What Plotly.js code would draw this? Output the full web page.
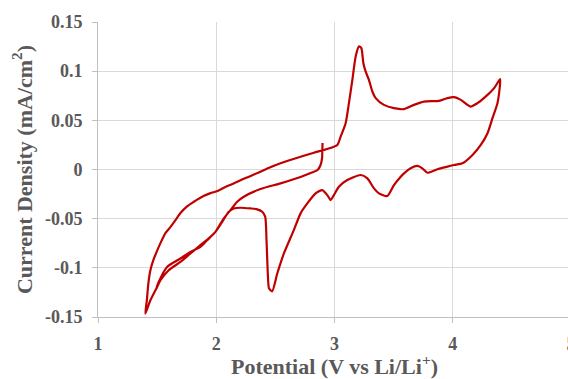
<!DOCTYPE html>
<html>
<head>
<meta charset="utf-8">
<script src="https://cdn.plot.ly/plotly-3.0.1.min.js"></script>
<style>
html,body{margin:0;padding:0;overflow:hidden;background:#fff;}
#chart{width:573px;height:379px;}
</style>
</head>
<body>
<div id="chart"></div>
<script>
// Segment 1: first cathodic sweep from OCV (~2.9 V) down to 1.4 V
var potentialA = [2.899,2.897,2.895,2.882,2.857,2.798,2.713,2.544,2.374,2.233,2.177,2.120,2.064,1.993,1.936,1.866,1.782,1.697,1.598,1.528,1.500,1.443,1.400];
var currentA   = [0.0270,0.0199,0.0117,0.0046,-0.0005,-0.0036,-0.0076,-0.0141,-0.0199,-0.0277,-0.0328,-0.0413,-0.0497,-0.0634,-0.0701,-0.0770,-0.0854,-0.0940,-0.1024,-0.1126,-0.1194,-0.1330,-0.1466];
// Segment 2: anodic sweep from 1.4 V to 4.4 V
var potentialB = [1.413,1.426,1.443,1.468,1.502,1.528,1.570,1.612,1.655,1.697,1.756,1.807,1.892,1.951,2.010,2.078,2.137,2.247,2.349,2.442,2.544,2.713,2.826,2.939,3.024,3.052,3.094,3.122,3.151,3.179,3.207,3.227,3.244,3.263,3.291,3.320,3.348,3.418,3.503,3.588,3.672,3.757,3.884,3.955,4.011,4.068,4.152,4.209,4.294,4.350,4.401];
var currentB   = [-0.1330,-0.1157,-0.1024,-0.0922,-0.0820,-0.0749,-0.0647,-0.0586,-0.0515,-0.0443,-0.0372,-0.0331,-0.0270,-0.0240,-0.0219,-0.0178,-0.0148,-0.0087,-0.0036,0.0015,0.0063,0.0130,0.0171,0.0209,0.0250,0.0334,0.0471,0.0675,0.0912,0.1150,0.1252,0.1235,0.1083,0.0997,0.0912,0.0793,0.0726,0.0657,0.0624,0.0614,0.0657,0.0691,0.0698,0.0726,0.0736,0.0708,0.0640,0.0675,0.0759,0.0828,0.0919];
// Segment 3: cathodic sweep from 4.4 V back to ~1.5 V
var potentialC = [4.398,4.378,4.336,4.294,4.237,4.167,4.082,4.011,3.955,3.870,3.786,3.743,3.701,3.644,3.588,3.560,3.503,3.447,3.376,3.334,3.278,3.221,3.108,3.037,2.995,2.967,2.939,2.897,2.840,2.770,2.713,2.656,2.572,2.516,2.473,2.446,2.436,2.425,2.414,2.389,2.340,2.290,2.205,2.148,2.106,2.050,1.993,1.923,1.866,1.782,1.697,1.584,1.513,1.494];
var currentC   = [0.0844,0.0675,0.0522,0.0369,0.0250,0.0148,0.0063,0.0046,0.0029,0.0002,-0.0033,0.0012,0.0036,0.0012,-0.0039,-0.0073,-0.0158,-0.0270,-0.0243,-0.0192,-0.0090,-0.0056,-0.0107,-0.0175,-0.0260,-0.0311,-0.0260,-0.0209,-0.0243,-0.0345,-0.0446,-0.0617,-0.0854,-0.1058,-0.1239,-0.1208,-0.1058,-0.0719,-0.0481,-0.0430,-0.0403,-0.0396,-0.0389,-0.0396,-0.0430,-0.0532,-0.0634,-0.0719,-0.0787,-0.0838,-0.0905,-0.0991,-0.1144,-0.1205];

var xTicks = [1,2,3,4,5];
var xTickText = ['1','2','3','4','5'];
var yTicks = [-0.15,-0.1,-0.05,0,0.05,0.1,0.15];
var yTickText = ['-0.15','-0.1','-0.05','0','0.05','0.1','0.15'];

var potential = potentialA.concat(potentialB, potentialC);
var current = currentA.concat(currentB, currentC);

var fontFam = '"Liberation Serif", "Times New Roman", serif';
var grey = '#595959';
function bold(a){ return a.map(function(s){ return '<b>' + s + '</b>'; }); }

var trace = {
  x: potential, y: current, type: 'scatter', mode: 'lines',
  line: {color: '#C00000', width: 2.2, shape: 'spline', smoothing: 0.6},
  hoverinfo: 'none'
};

var layout = {
  width: 573, height: 379,
  margin: {l: 98, r: 2, t: 22, b: 62},
  paper_bgcolor: '#ffffff', plot_bgcolor: '#ffffff',
  showlegend: false,
  font: {family: fontFam, color: grey},
  xaxis: {
    range: [1, 5], tickvals: xTicks, ticktext: bold(xTickText),
    showgrid: true, gridcolor: '#D9D9D9', gridwidth: 1,
    zeroline: false, showline: true, linecolor: '#BFBFBF', linewidth: 1,
    ticks: 'outside', ticklen: 5, tickcolor: '#BFBFBF', ticklabelstandoff: 5,
    ticklabeloverflow: 'allow',
    tickfont: {family: fontFam, size: 18, color: grey},
    title: {text: '<b>Potential (V vs Li/Li<sup>+</sup>)</b>', font: {family: fontFam, size: 22, color: grey}, standoff: 4}
  },
  yaxis: {
    range: [-0.15, 0.15], tickvals: yTicks, ticktext: bold(yTickText),
    showgrid: true, gridcolor: '#D9D9D9', gridwidth: 1,
    zeroline: false, showline: true, linecolor: '#BFBFBF', linewidth: 1,
    ticks: 'outside', ticklen: 5, tickcolor: '#BFBFBF', ticklabelstandoff: 6,
    tickfont: {family: fontFam, size: 18, color: grey},
    title: {text: '<b>Current Density (mA/cm<sup>2</sup>)</b>', font: {family: fontFam, size: 22, color: grey}, standoff: 6}
  }
};

Plotly.newPlot('chart', [trace], layout, {displayModeBar: false, staticPlot: true});
</script>
</body>
</html>
